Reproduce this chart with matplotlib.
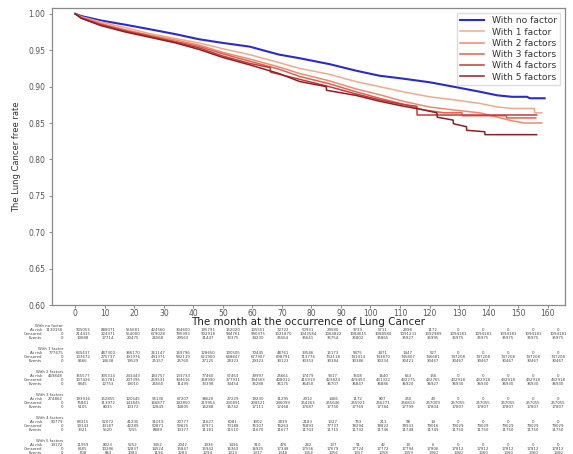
import numpy as np
import matplotlib
matplotlib.use("Agg")
import matplotlib.pyplot as plt

# Kaplan-Meier curves: months and lung-cancer-free rate for each group
labels = ["With no factor", "With 1 factor", "With 2 factors",
          "With 3 factors", "With 4 factors", "With 5 factors"]
colors = ["#2a2ad0", "#f4a88c", "#ee8a6c", "#e0604c", "#c8383a", "#8e1f22"]

t0 = [0, 2, 8.5, 17, 25, 34, 42, 50, 59, 69, 76, 86, 95, 103, 111, 120,
      128, 137, 143, 148, 153, 154, 159]
s0 = [1.0, 0.997, 0.991, 0.985, 0.979, 0.972, 0.965, 0.960, 0.955, 0.944,
      0.939, 0.931, 0.922, 0.915, 0.911, 0.906, 0.900, 0.893, 0.888, 0.886,
      0.886, 0.884, 0.884]

t1 = [0, 2, 8.5, 17, 25, 34, 42, 50, 59, 69, 76, 86, 95, 103, 111, 120,
      128, 137, 143, 148, 155.5, 155.6, 158]
s1 = [1.0, 0.996, 0.989, 0.981, 0.973, 0.966, 0.960, 0.952, 0.944, 0.933,
      0.925, 0.917, 0.907, 0.900, 0.893, 0.886, 0.882, 0.877, 0.872, 0.870,
      0.870, 0.864, 0.864]

t2 = [0, 2, 8.5, 17, 25, 34, 42, 50, 59, 69, 76, 86, 95, 103, 111, 120,
      128, 137, 143, 148, 152, 158]
s2 = [1.0, 0.995, 0.987, 0.978, 0.971, 0.964, 0.957, 0.947, 0.938, 0.927,
      0.918, 0.908, 0.897, 0.889, 0.880, 0.872, 0.868, 0.864, 0.858, 0.853,
      0.850, 0.850]

t3 = [0, 2, 8.5, 17, 25, 34, 42, 50, 59, 69, 76, 86, 95, 103, 111, 118,
      125, 131, 131.1, 146, 146.1, 156]
s3 = [1.0, 0.995, 0.986, 0.977, 0.970, 0.962, 0.955, 0.945, 0.935, 0.924,
      0.914, 0.904, 0.893, 0.884, 0.876, 0.868, 0.864, 0.864, 0.860, 0.860,
      0.857, 0.857]

t4 = [0, 2, 8.5, 17, 25, 34, 42, 50, 59, 66, 66.1, 76, 86, 95, 103, 110,
      115.7, 115.8, 156.3]
s4 = [1.0, 0.994, 0.985, 0.976, 0.969, 0.961, 0.953, 0.942, 0.932, 0.926,
      0.920, 0.910, 0.900, 0.890, 0.882, 0.876, 0.873, 0.861, 0.861]

t5 = [0, 2, 8.5, 17, 25, 34, 42, 50, 59, 69, 76, 85, 85.1, 95, 103, 110,
      118, 122.5, 122.6, 128, 128.1, 132.5, 132.6, 138.7, 138.8, 156.3]
s5 = [1.0, 0.994, 0.984, 0.975, 0.968, 0.960, 0.951, 0.940, 0.930, 0.918,
      0.907, 0.900, 0.895, 0.888, 0.880, 0.874, 0.868, 0.864, 0.858, 0.854,
      0.849, 0.845, 0.840, 0.838, 0.834, 0.834]

times = [t0, t1, t2, t3, t4, t5]
surv = [s0, s1, s2, s3, s4, s5]

# number-at-risk table below the plot (first value is the start column)
risk_no = [1130156, 905053, 888071, 555681, 424560, 304600, 195791, 152020,
           105551, 72722, 50931, 29580, 9739, 5711, 2998, 1172, 0, 0, 0, 0, 0]
cens_no = [0, 214415, 224371, 554000, 679028, 795993, 902918, 944761,
           990375, 1021870, 1043584, 1064822, 1084615, 1088580, 1091231,
           1092989, 1094181, 1094181, 1094181, 1094181, 1094181]
evt_no = [0, 10688, 17714, 20475, 26568, 29563, 31447, 33375, 34230, 35564,
          35641, 35754, 35802, 35865, 35927, 35995, 35975, 35975, 35975,
          35975, 35975]

risk_1 = [777675, 635437, 487300, 366170, 261147, 169796, 128650, 100505,
          70445, 48761, 33546, 15173, 5875, 3471, 1447, 527, 0, 0, 0, 0, 0]
cens_1 = [0, 133672, 275737, 391976, 491371, 582119, 621900, 648847,
          677907, 698791, 713776, 732118, 741414, 743870, 745807, 746681,
          747208, 747208, 747208, 747208, 747208]
evt_1 = [0, 8566, 14638, 19529, 25157, 25760, 27125, 28323, 29323, 30123,
         30353, 30384, 30386, 30334, 30421, 30467, 30467, 30467, 30467,
         30467, 30467]

risk_2 = [469848, 355577, 305314, 243443, 183757, 133733, 77460, 57463,
          39997, 25661, 17479, 9317, 3508, 1640, 653, 156, 0, 0, 0, 0, 0]
cens_2 = [0, 107426, 151781, 207395, 259531, 304616, 358990, 377931,
          394563, 408012, 415919, 423824, 429493, 431322, 432275, 432765,
          432918, 432918, 432918, 432918, 432918]
evt_2 = [0, 6845, 12753, 19010, 26560, 31499, 33398, 34454, 35288, 36175,
         36450, 36707, 36847, 36886, 36920, 36927, 36930, 36930, 36930,
         36930, 36930]

risk_3 = [274862, 193916, 152855, 120645, 95136, 67207, 38620, 27229,
          19230, 11295, 2912, 1466, 1172, 807, 250, 49, 0, 0, 0, 0, 0]
cens_3 = [0, 75841, 113972, 143845, 166877, 192850, 219954, 230891,
          238521, 246099, 254263, 255646, 255921, 256271, 256813, 257009,
          257055, 257055, 257055, 257055, 257055]
evt_3 = [0, 5105, 8035, 10372, 12849, 14805, 16288, 16742, 17111, 17468,
         17687, 17750, 17769, 17784, 17799, 17804, 17807, 17807, 17807,
         17807, 17807]

risk_4 = [90779, 68315, 52072, 41235, 31019, 20777, 11627, 6081, 3002,
          2839, 2183, 1327, 753, 211, 98, 14, 0, 0, 0, 0, 0]
cens_4 = [0, 19143, 33187, 42289, 50871, 59625, 67971, 73188, 76107,
          76263, 76893, 77737, 78294, 78822, 78933, 79016, 79029, 79029,
          79029, 79029, 79029]
evt_4 = [0, 3321, 5520, 7255, 8889, 10377, 11181, 11510, 11670, 11677,
         11703, 11715, 11732, 11746, 11748, 11749, 11750, 11750, 11750,
         11750, 11750]

risk_5 = [19172, 11959, 8023, 5252, 3452, 2042, 1936, 1496, 910, 476, 262,
          137, 91, 42, 19, 6, 0, 0, 0, 0, 0]
cens_5 = [0, 6605, 10286, 12837, 14524, 15847, 15942, 16363, 16925, 17348,
          17556, 17679, 17724, 17772, 17794, 17806, 17812, 17812, 17812,
          17812, 17812]
evt_5 = [0, 608, 863, 1083, 1196, 1283, 1294, 1313, 1337, 1348, 1354, 1356,
         1357, 1358, 1359, 1360, 1360, 1360, 1360, 1360, 1360]

table = [(risk_no, cens_no, evt_no), (risk_1, cens_1, evt_1),
         (risk_2, cens_2, evt_2), (risk_3, cens_3, evt_3),
         (risk_4, cens_4, evt_4), (risk_5, cens_5, evt_5)]

W, H = 573, 454
fig = plt.figure(figsize=(W / 100, H / 100), dpi=100)
ax = fig.add_axes([52 / W, 1 - 305 / H, 513 / W, 297 / H])

for t, s, c, lab in zip(times, surv, colors, labels):
    lw = 1.5 if lab == "With no factor" else 1.1
    ax.plot(t, s, color=c, lw=lw, label=lab)

ax.set_xlim(-7.9, 165.9)
ax.set_ylim(0.60, 1.008)
ax.set_xticks(np.arange(0, 161, 10))
ax.set_yticks(np.arange(0.60, 1.001, 0.05))
ax.set_yticklabels([f"{v:.2f}" for v in np.arange(0.60, 1.001, 0.05)])
ax.tick_params(labelsize=5.5, colors="#777777", labelcolor="#555555",
               length=2, width=0.6)
ax.tick_params(axis="x", pad=1)
ax.tick_params(axis="y", pad=3)
for sp in ax.spines.values():
    sp.set_color("#8a8a8a")
    sp.set_linewidth(0.9)

ax.set_xlabel("The month at the occurrence of Lung Cancer", fontsize=7.5,
              color="#222222", labelpad=-1)
ax.set_ylabel("The Lung Cancer free rate", fontsize=6, color="#333333",
              labelpad=5)

leg = ax.legend(loc="upper right", fontsize=6.6, labelspacing=0.25,
                handlelength=2.6, borderpad=0.4, framealpha=1,
                fancybox=False, edgecolor="#dddddd")
for txt in leg.get_texts():
    txt.set_color("#333333")

# at-risk table drawn as figure text
col_x = 83 + 25 * np.arange(20)
row_names = ["At risk", "Censored", "Events"]
fs = 2.8
for g, (lab, rows) in enumerate(zip(labels, table)):
    y0 = 326 + 23 * g
    fig.text(63 / W, 1 - y0 / H, lab, fontsize=fs, color="#444444",
             ha="right", va="center")
    for r, (name, vals) in enumerate(zip(row_names, rows)):
        y = y0 + 4 * (r + 1)
        fig.text(42 / W, 1 - y / H, name, fontsize=fs, color="#444444",
                 ha="right", va="center")
        fig.text(63 / W, 1 - y / H, str(vals[0]), fontsize=fs,
                 color="#444444", ha="right", va="center")
        for x, v in zip(col_x, vals[1:]):
            fig.text(x / W, 1 - y / H, str(v), fontsize=fs, color="#444444",
                     ha="center", va="center")

fig.savefig("out.png", dpi=100)
